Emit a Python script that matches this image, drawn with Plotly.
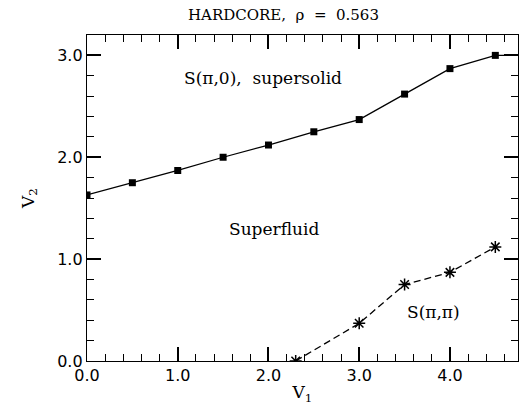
import plotly.graph_objects as go

# Data
v1_solid = [0.0, 0.5, 1.0, 1.5, 2.0, 2.5, 3.0, 3.5, 4.0, 4.5, 5.0]
v2_solid = [1.63, 1.75, 1.87, 2.0, 2.12, 2.25, 2.37, 2.62, 2.87, 3.0, 3.0]
v1_pp = [2.3, 3.0, 3.5, 4.0, 4.5]
v2_pp = [0.0, 0.37, 0.75, 0.87, 1.12]
x_ticks = [0, 1, 2, 3, 4]
x_ticklabels = ["0.0", "1.0", "2.0", "3.0", "4.0"]
y_ticks = [0, 1, 2, 3]
y_ticklabels = ["0.0", "1.0", "2.0", "3.0"]
x_minor = [round(0.2 * i, 1) for i in range(24)]
y_minor = [round(0.2 * i, 1) for i in range(17)]

serif = "DejaVu Serif"
sans = "DejaVu Sans"
X_RANGE = [0, 4.75]
Y_RANGE = [0, 3.2]

fig = go.Figure()
fig.add_trace(go.Scatter(
    x=v1_solid, y=v2_solid, mode="lines+markers",
    line=dict(color="black", width=1.3),
    marker=dict(symbol="square", size=7, color="black"),
    showlegend=False,
))
fig.add_trace(go.Scatter(
    x=v1_pp, y=v2_pp, mode="lines+markers",
    line=dict(color="black", width=1.3, dash="7px,4px"),
    marker=dict(symbol="asterisk-open", size=10, color="black",
                line=dict(color="black", width=1.5)),
    showlegend=False,
))

axis_common = dict(
    showgrid=False, zeroline=False, showline=True, linecolor="black",
    linewidth=1.3, mirror="allticks", ticks="inside", automargin=False,
    tickcolor="black", ticklen=14, tickwidth=2,
    tickfont=dict(family=sans, size=16, color="black"),
)

fig.update_xaxes(
    range=X_RANGE, tickvals=x_ticks, ticktext=x_ticklabels,
    minor=dict(tickmode="array", tickvals=x_minor, ticks="inside", ticklen=7,
               tickwidth=1, tickcolor="black", showgrid=False),
    title=dict(text="V<sub>1</sub>", font=dict(family=serif, size=17, color="black"),
               standoff=2),
    **axis_common,
)
fig.update_yaxes(
    range=Y_RANGE, tickvals=y_ticks, ticktext=y_ticklabels,
    minor=dict(tickmode="array", tickvals=y_minor, ticks="inside", ticklen=7,
               tickwidth=1, tickcolor="black", showgrid=False),
    title=dict(text="V<sub>2</sub>", font=dict(family=serif, size=17, color="black"),
               standoff=18),
    **axis_common,
)

fig.add_annotation(x=1.94, y=2.78, text="S(π,0),  supersolid", showarrow=False,
                   font=dict(family=serif, size=17, color="black"))
fig.add_annotation(x=2.06, y=1.30, text="Superfluid", showarrow=False,
                   font=dict(family=serif, size=17, color="black"))
fig.add_annotation(x=3.82, y=0.48, text="S(π,π)", showarrow=False,
                   font=dict(family=serif, size=17, color="black"))
fig.add_annotation(x=0.455, xref="paper", y=1 + (35 - 15) / (405 - 35 - 44), yref="paper",
                   yanchor="middle", text="HARDCORE,  ρ  =  0.563", showarrow=False,
                   font=dict(family=serif, size=15, color="black"))

fig.update_layout(
    width=519, height=405,
    margin=dict(l=87, r=1, t=35, b=44, autoexpand=False),
    plot_bgcolor="white", paper_bgcolor="white",
)

fig.write_html("out.html", config={"displayModeBar": False},
               post_script="document.body.style.margin='0';")
